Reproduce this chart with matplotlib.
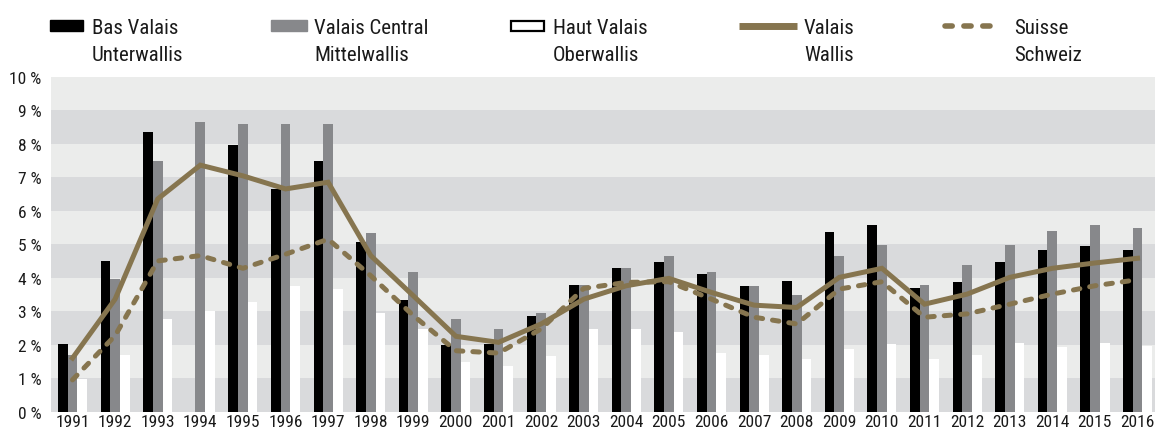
import numpy as np
import matplotlib
matplotlib.use("Agg")
import matplotlib.pyplot as plt
from matplotlib import font_manager
from matplotlib.patches import Rectangle
from matplotlib.lines import Line2D
from matplotlib.transforms import Affine2D

# ---- data ----
years = list(range(1991, 2017))
bas_valais = [2.02, 4.50, 8.35, np.nan, 7.96, 6.65, 7.48, 5.06, 3.33, 1.99, 2.02, 2.86, 3.78,
              4.29, 4.47, 4.11, 3.75, 3.90, 5.36, 5.57, 3.69, 3.87, 4.47, 4.83, 4.95, 4.83]
valais_central = [1.70, 3.96, 7.48, 8.66, 8.59, 8.59, 8.59, 5.33, 4.17, 2.77, 2.47, 2.95, 3.78,
                  4.29, 4.65, 4.17, 3.75, 3.48, 4.65, 4.98, 3.78, 4.38, 4.98, 5.39, 5.57, 5.48]
haut_valais = [0.97, 1.69, 2.77, 3.00, 3.27, 3.75, 3.66, 2.95, 2.47, 1.49, 1.36, 1.66, 2.47,
               2.47, 2.38, 1.75, 1.69, 1.57, 1.87, 2.02, 1.57, 1.69, 2.05, 1.93, 2.05, 1.96]
valais = [1.60, 3.36, 6.35, 7.36, 7.04, 6.65, 6.85, 4.66, 3.46, 2.25, 2.07, 2.62, 3.36,
          3.76, 3.98, 3.56, 3.18, 3.11, 4.01, 4.28, 3.21, 3.51, 4.01, 4.28, 4.44, 4.58]
suisse = [0.95, 2.27, 4.50, 4.66, 4.28, 4.70, 5.15, 4.06, 2.87, 1.82, 1.75, 2.47, 3.68,
          3.86, 3.88, 3.36, 2.82, 2.62, 3.66, 3.88, 2.82, 2.92, 3.21, 3.51, 3.76, 3.94]
y_ticks = list(range(0, 11))
y_labels = [f"{v} %" for v in y_ticks]

legend_labels = [("Bas Valais", "Unterwallis"), ("Valais Central", "Mittelwallis"),
                 ("Haut Valais", "Oberwallis"), ("Valais", "Wallis"), ("Suisse", "Schweiz")]

BLACK = "#000000"
GREY = "#87888b"
GOLD = "#86754f"
BAND_DARK = "#d9dadc"
BAND_LIGHT = "#ebeceb"
TXT = "#1a1a1a"

# condensed font if one is around
names = {f.name for f in font_manager.fontManager.ttflist}
stretch = "normal"
family = "Liberation Sans"
for cand in ["Liberation Sans Narrow", "DejaVu Sans Condensed", "Roboto Condensed",
             "Open Sans Condensed"]:
    if cand in names:
        family = cand
        break
else:
    cond = [f for f in font_manager.fontManager.ttflist
            if f.stretch in ("condensed", "semi-condensed") and f.name == "DejaVu Sans"]
    if cond:
        family, stretch = "DejaVu Sans", "condensed"
plt.rcParams["font.family"] = family
plt.rcParams["font.stretch"] = stretch

W, H = 1155, 431
fig = plt.figure(figsize=(W / 100, H / 100), dpi=100)
ax = fig.add_axes([51 / W, 18.3 / H, 1104 / W, 335 / H])

x = np.arange(len(years))
bw = 0.228

# banded background
for i in range(10):
    ax.axhspan(i, i + 1, color=BAND_DARK if i % 2 == 0 else BAND_LIGHT, lw=0, zorder=0)

ax.bar(x - bw, bas_valais, bw, color=BLACK, lw=0, zorder=2)
ax.bar(x, valais_central, bw, color=GREY, lw=0, zorder=2)
ax.bar(x + bw, haut_valais, bw, color="white", lw=0, zorder=2)

ax.plot(x, valais, color=GOLD, lw=3.6, solid_joinstyle="miter", zorder=3)
ax.plot(x, suisse, color=GOLD, lw=3.6, dashes=(1.3, 2.0), dash_capstyle="round", zorder=3)

ax.set_xlim(-0.505, 25.41)
ax.set_ylim(0, 10)
ax.set_yticks(y_ticks)
ax.set_yticklabels(y_labels, fontsize=12.5, color=TXT)
ax.set_xticks(x)
ax.set_xticklabels([str(y) for y in years], fontsize=12.5, color=TXT)
ax.tick_params(axis="y", length=0, pad=7)
ax.tick_params(axis="x", length=0, pad=2)
for s in ax.spines.values():
    s.set_visible(False)

# ---- legend, in pixel coords from the top-left ----
px = Affine2D().scale(1 / W, -1 / H).translate(0, 1) + fig.transFigure
fig.patches.append(Rectangle((50, 21), 33, 11, color=BLACK, transform=px, figure=fig))
fig.patches.append(Rectangle((271, 21), 36, 11, color=GREY, transform=px, figure=fig))
fig.patches.append(Rectangle((511, 22), 33, 9.5, facecolor="white", edgecolor=BLACK, lw=1.6,
                             transform=px, figure=fig))
fig.lines.append(Line2D([739, 797], [26.5, 26.5], color=GOLD, lw=5, solid_capstyle="butt",
                        transform=px, figure=fig))
fig.lines.append(Line2D([945, 1000], [26.5, 26.5], color=GOLD, lw=4, dashes=(1.3, 2.1),
                        dash_capstyle="round", transform=px, figure=fig))

text_x = [92, 314, 553, 804, 1014]
for tx, (l1, l2) in zip(text_x, legend_labels):
    fig.text(tx, 34, l1, transform=px, fontsize=15, color=TXT, va="baseline")
    fig.text(tx, 61, l2, transform=px, fontsize=15, color=TXT, va="baseline")

fig.savefig("out.png", dpi=100)
